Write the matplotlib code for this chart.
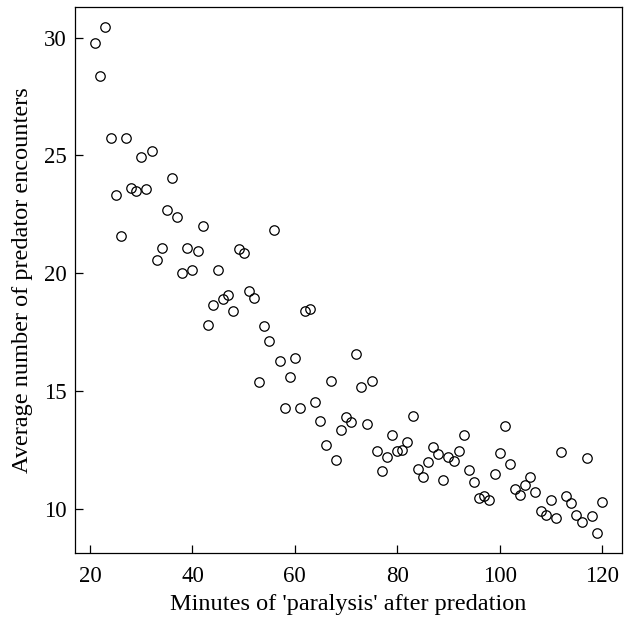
import matplotlib.pyplot as plt
import numpy as np

plt.rcParams['font.family'] = ['Liberation Serif', 'DejaVu Serif']

# minutes of paralysis (one point per minute) and mean encounters
minutes = np.arange(21, 121)
encounters = [
    29.78, 28.39, 30.45, 25.75, 23.30, 21.58, 25.75, 23.63, 23.47, 24.94,  # 21-30
    23.59, 25.18, 20.55, 21.05, 22.68, 24.04, 22.40, 20.03, 21.05, 20.14,  # 31-40
    20.93, 21.99, 17.78, 18.66, 20.14, 18.89, 19.07, 18.39, 21.02, 20.85,  # 41-50
    19.24, 18.94, 15.40, 17.74, 17.13, 21.84, 16.28, 14.28, 15.59, 16.39,  # 51-60
    14.28, 18.39, 18.50, 14.55, 13.74, 12.72, 15.44, 12.09, 13.35, 13.90,  # 61-70
    13.70, 16.58, 15.18, 13.59, 15.44, 12.44, 11.60, 12.19, 13.15, 12.44,  # 71-80
    12.49, 12.83, 13.94, 11.69, 11.34, 11.98, 12.63, 12.32, 11.23, 12.20,  # 81-90
    12.02, 12.43, 13.12, 11.63, 11.12, 10.44, 10.53, 10.37, 11.48, 12.37,  # 91-100
    13.52, 11.88, 10.83, 10.58, 11.02, 11.36, 10.72, 9.89, 9.73, 10.38,    # 101-110
    9.59, 12.39, 10.53, 10.23, 9.73, 9.42, 12.14, 9.69, 8.97, 10.27,       # 111-120
]
xticks = [20, 40, 60, 80, 100, 120]
yticks = [10, 15, 20, 25, 30]

fig = plt.figure(figsize=(6.35, 6.23), dpi=100)
ax = fig.add_axes([0.118, 0.112, 0.862, 0.877])

ax.plot(minutes, encounters, linestyle="none", marker="o", markersize=6.8,
        markerfacecolor="none", markeredgecolor="black", markeredgewidth=0.9)

# R-style 4% axis extension
xr = minutes.max() - minutes.min()
yr = max(encounters) - min(encounters)
ax.set_xlim(minutes.min() - 0.04 * xr, minutes.max() + 0.04 * xr)
ax.set_ylim(min(encounters) - 0.04 * yr, max(encounters) + 0.04 * yr)

ax.set_xticks(xticks)
ax.set_yticks(yticks)
ax.tick_params(direction="in", length=6, width=0.9, labelsize=16.5)
ax.tick_params(axis="x", pad=9)
ax.tick_params(axis="y", pad=6)
for s in ax.spines.values():
    s.set_linewidth(0.9)

ax.set_xlabel("Minutes of 'paralysis' after predation", fontsize=17.5, labelpad=5)
ax.set_ylabel("Average number of predator encounters", fontsize=17.5, labelpad=8)

fig.savefig("out.png", dpi=100)
